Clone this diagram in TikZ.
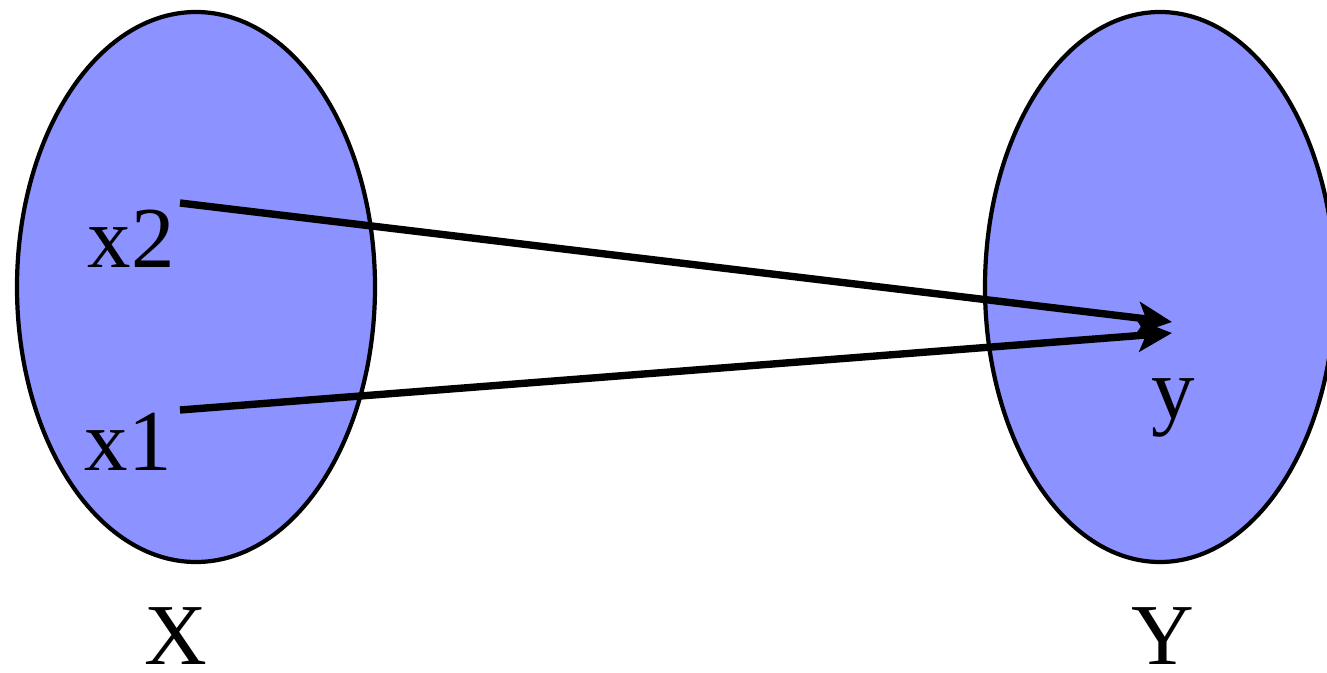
\documentclass[tikz,border=0pt]{standalone}
\usepackage{fontspec}
\setmainfont{Liberation Serif}
\usepackage{xcolor}
\usepackage{tikz}
\usetikzlibrary{arrows.meta}
\definecolor{setblue}{RGB}{140,146,255}
\tikzset{setshape/.style = {draw=black, line width=1.2pt, fill=setblue}}
\tikzset{maparrow/.style = {line width=2.1pt, -{Stealth[length=0.34cm, width=0.32cm, inset=0.08cm]}}}
\tikzset{lbl/.style = {anchor=base, inner sep=0pt, font=\fontsize{24.7}{30}\selectfont}}

\begin{document}
\begin{tikzpicture}[x=0.01cm, y=-0.01cm]
\useasboundingbox (0,0) rectangle (1327,673);

\draw[setshape]  (196,287) ellipse [x radius=179, y radius=275];
\draw[setshape]  (1160,287) ellipse [x radius=175, y radius=275];

\coordinate (x2) at (180,203);
\coordinate (x1) at (180,410);
\coordinate (y2) at (1172,322);
\coordinate (y1) at (1172,333);

\draw[maparrow]  (x2) -- (y2);
\draw[maparrow]  (x1) -- (y1);

\node[lbl] (lx2) at (131,268) {x2};
\node[lbl] (lx1) at (128,470) {x1};
\node[lbl] (ly)  at (1173,418) {y};
\node[lbl] (lX)  at (176,664) {X};
\node[lbl] (lY)  at (1163,664) {Y};
\end{tikzpicture}
\end{document}
